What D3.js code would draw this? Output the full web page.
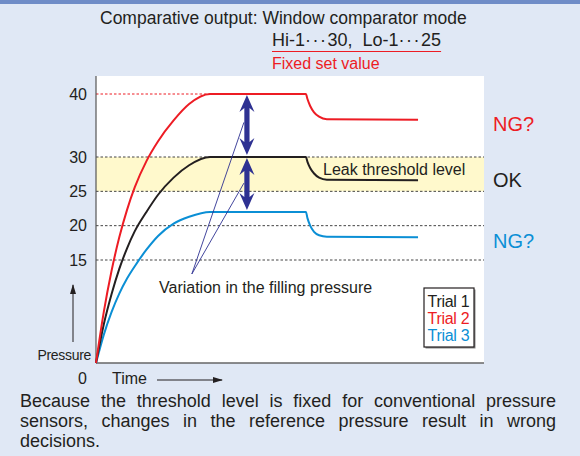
<!DOCTYPE html>
<html>
<head>
<meta charset="utf-8">
<script src="https://cdn.jsdelivr.net/npm/d3@7/dist/d3.min.js"></script>
<style>
  body { margin: 0; background: #e0e8f5; }
  svg { display: block; font-family: "Liberation Sans", Arial, sans-serif; }
</style>
</head>
<body>
<svg id="chart" width="580" height="456"></svg>
<script>
(function(){
  // time points (arbitrary units) and pressure readings for each trial
  var times  = [0, 2, 4, 6, 8, 10, 13, 16, 20, 24, 29.4, 54.1, 54.5, 55.2, 56.2, 57.5, 59.5, 83]
  var trial1 = [0, 5.6, 10, 13.7, 16.7, 19.2, 22, 24.5, 27, 28.8, 30, 30, 29.3, 28.4, 27.6, 27, 26.7, 26.6]
  var trial2 = [0, 7.4, 13.4, 18.3, 22.3, 25.6, 29.4, 32.5, 35.8, 38.4, 40, 40, 39.2, 38.1, 37.1, 36.4, 36, 35.9]
  var trial3 = [0, 4.1, 7.4, 10.1, 12.3, 14.1, 16.5, 18.5, 20.3, 21.3, 22, 22, 21.1, 20, 19.1, 18.6, 18.4, 18.3]

  var trialNames = ['Trial 1', 'Trial 2', 'Trial 3']
  var trialColors = ['#231f20', '#ed1c24', '#0b8fd5']
  var yTicks = [15, 20, 25, 30, 40]
  var hiLevel = 30, loLevel = 25
  var arrowTime = 38.9

  var svg = d3.select('#chart'),
      width = +svg.attr('width'),
      height = +svg.attr('height')

  var textCol = '#231f20', navy = '#2e3192'

  // plot box
  var left = 96, right = 484, top = 76, bottom = 363

  var x = d3.scaleLinear().domain([0, 100]).range([left, right])
  var y = d3.scaleLinear().domain([0, 30, 40]).range([bottom, 157, 94])

  // top bar
  svg.append('rect').attr('x', 0).attr('y', 0).attr('width', width).attr('height', 4)
    .attr('fill', '#6f8cc7')

  svg.append('rect').attr('x', left).attr('y', top)
    .attr('width', right - left).attr('height', bottom - top).attr('fill', '#fff')

  // OK band
  svg.append('rect').attr('x', left).attr('y', y(hiLevel))
    .attr('width', right - left).attr('height', y(loLevel) - y(hiLevel))
    .attr('fill', '#fff9cc')

  // grid lines
  svg.append('g').selectAll('line')
    .data(yTicks.filter(d => d < 40)).enter().append('line')
    .attr('x1', left).attr('x2', right)
    .attr('y1', d => y(d)).attr('y2', d => y(d))
    .attr('stroke', '#444').attr('stroke-width', 1).attr('stroke-dasharray', '2.5,2')

  svg.append('line')
    .attr('x1', left).attr('x2', x(times[10]))
    .attr('y1', y(40)).attr('y2', y(40))
    .attr('stroke', '#ed1c24').attr('stroke-width', 1).attr('stroke-dasharray', '2.5,2')

  // axis lines
  svg.append('line').attr('x1', left).attr('x2', left).attr('y1', top).attr('y2', bottom)
    .attr('stroke', '#555').attr('stroke-width', 1.2)
  svg.append('line').attr('x1', left).attr('x2', right).attr('y1', bottom).attr('y2', bottom)
    .attr('stroke', '#666').attr('stroke-width', 1.5)

  var yAxis = svg.append('g')
    .attr('transform', 'translate(' + left + ',0)')
    .call(d3.axisLeft(y).tickValues(yTicks).tickSize(0).tickPadding(9))
  yAxis.select('.domain').remove()
  yAxis.selectAll('text').attr('font-size', '16px').attr('fill', textCol)
    .attr('font-family', '"Liberation Sans", Arial, sans-serif')

  svg.append('text').text('0')
    .attr('x', left - 9).attr('y', bottom + 21).attr('text-anchor', 'end')
    .attr('font-size', '16px').attr('fill', textCol)

  svg.append('text').text('Pressure')
    .attr('x', left - 5).attr('y', bottom - 3).attr('text-anchor', 'end')
    .attr('font-size', '14px').attr('fill', textCol)
    .attr('letter-spacing', '-0.3')

  svg.append('text').text('Time')
    .attr('x', 112).attr('y', bottom + 21)
    .attr('font-size', '16px').attr('fill', textCol)

  // axis arrows
  svg.append('defs').append('marker')
    .attr('id', 'tip').attr('viewBox', '0 0 10 6').attr('refX', 9).attr('refY', 3)
    .attr('markerWidth', 10).attr('markerHeight', 6).attr('markerUnits', 'userSpaceOnUse')
    .attr('orient', 'auto')
    .append('path').attr('d', 'M0,0L10,3L0,6Z').attr('fill', textCol)

  svg.append('line').attr('x1', 157).attr('x2', 222).attr('y1', 380).attr('y2', 380)
    .attr('stroke', textCol).attr('stroke-width', 1).attr('marker-end', 'url(#tip)')
  svg.append('line').attr('x1', 73).attr('x2', 73).attr('y1', 342).attr('y2', 285)
    .attr('stroke', textCol).attr('stroke-width', 1).attr('marker-end', 'url(#tip)')

  // trial curves
  var lineGenerator = d3.line().curve(d3.curveMonotoneX)
  var series = [trial1, trial2, trial3]
  // draw blue, black, red so red is on top like the source
  ;[2, 0, 1].forEach(function(si) {
    svg.append('path')
      .attr('d', lineGenerator(times.map((t, i) => [x(t), y(series[si][i])])))
      .attr('fill', 'none').attr('stroke', trialColors[si]).attr('stroke-width', 2)
  })

  // pointer lines to the arrows
  var pointer = [x(24.7), 274]
  var arrowX = x(arrowTime)
  var pointEnds = [(trial2[10] + trial1[10]) / 2 + 0.5, (trial1[10] + trial3[10]) / 2 + 0.2]
  svg.append('g').selectAll('line').data(pointEnds).enter().append('line')
    .attr('x1', pointer[0]).attr('y1', pointer[1])
    .attr('x2', arrowX - 3).attr('y2', d => y(d))
    .attr('stroke', navy).attr('stroke-width', 0.9)

  // double headed arrows
  function dblArrow(y1, y2) {
    var hw = 7.5, sw = 2.6, hl = 17, cx = arrowX
    return 'M' + cx + ',' + y1 +
      'L' + (cx + hw) + ',' + (y1 + hl) + 'L' + (cx + sw) + ',' + (y1 + hl - 4) +
      'L' + (cx + sw) + ',' + (y2 - hl + 4) + 'L' + (cx + hw) + ',' + (y2 - hl) +
      'L' + cx + ',' + y2 +
      'L' + (cx - hw) + ',' + (y2 - hl) + 'L' + (cx - sw) + ',' + (y2 - hl + 4) +
      'L' + (cx - sw) + ',' + (y1 + hl - 4) + 'L' + (cx - hw) + ',' + (y1 + hl) + 'Z'
  }
  svg.append('path').attr('d', dblArrow(y(trial2[10]) + 1, y(trial1[10]) - 2)).attr('fill', navy)
  svg.append('path').attr('d', dblArrow(y(trial1[10]) + 1, y(trial3[10]) - 2)).attr('fill', navy)

  svg.append('text').text('Variation in the filling pressure')
    .attr('x', 159).attr('y', 293)
    .attr('font-size', '16px').attr('fill', textCol)

  svg.append('text').text('Leak threshold level')
    .attr('x', 323).attr('y', 175)
    .attr('font-size', '16px').attr('fill', textCol)

  // judgement labels
  var judge = [['NG?', trialColors[1], 131], ['OK', textCol, 187], ['NG?', trialColors[2], 248]]
  svg.append('g').selectAll('text').data(judge).enter().append('text')
    .text(d => d[0]).attr('x', 493).attr('y', d => d[2])
    .attr('font-size', '20px').attr('fill', d => d[1])

  // legend
  var lg = svg.append('g').attr('transform', 'translate(424,288)')
  lg.append('rect').attr('x', 1.5).attr('y', 1.5).attr('width', 50).attr('height', 59).attr('fill', '#888')
  lg.append('rect').attr('width', 50).attr('height', 59).attr('fill', '#fff')
    .attr('stroke', '#231f20').attr('stroke-width', 1.2)
  lg.selectAll('text.leg').data(trialNames).enter().append('text')
    .attr('class', 'leg').text(d => d)
    .attr('x', 3.5).attr('y', (d, i) => 18.5 + i * 17)
    .attr('font-size', '16px').attr('fill', (d, i) => trialColors[i])
    .attr('letter-spacing', '-0.3')

  // titles
  svg.append('text').text('Comparative output: Window comparator mode')
    .attr('x', 100).attr('y', 24).attr('font-size', '17.5px').attr('fill', textCol)
  var sub = svg.append('text').attr('x', 272).attr('y', 46)
    .attr('font-size', '18px').attr('fill', textCol).attr('xml:space', 'preserve')
    .style('white-space', 'pre')
  sub.append('tspan').text('Hi-1')
  sub.append('tspan').text('\u00b7\u00b7\u00b7').attr('letter-spacing', '1.5')
  sub.append('tspan').text(hiLevel + ',  Lo-1')
  sub.append('tspan').text('\u00b7\u00b7\u00b7').attr('letter-spacing', '1.5')
  sub.append('tspan').text(loLevel)
  var subW = sub.node().getComputedTextLength()
  svg.append('line').attr('x1', 272).attr('x2', 272 + subW).attr('y1', 51.5).attr('y2', 51.5)
    .attr('stroke', '#ed1c24').attr('stroke-width', 1.2)
  svg.append('text').text('Fixed set value')
    .attr('x', 272).attr('y', 69).attr('font-size', '16px').attr('fill', '#ed1c24')

  // caption, justified on the first two lines
  var caption = ['Because the threshold level is fixed for conventional pressure',
                 'sensors, changes in the reference pressure result in wrong',
                 'decisions.']
  caption.forEach(function(line, i) {
    var t = svg.append('text').text(line)
      .attr('x', 20).attr('y', 407 + i * 20)
      .attr('font-size', '18px').attr('fill', textCol)
    if (i < 2) {
      var w = t.node().getComputedTextLength()
      var gaps = line.split(' ').length - 1
      t.attr('word-spacing', Math.max(0, (556 - 20 - w) / gaps) + 'px')
    }
  })
})()
</script>
</body>
</html>
